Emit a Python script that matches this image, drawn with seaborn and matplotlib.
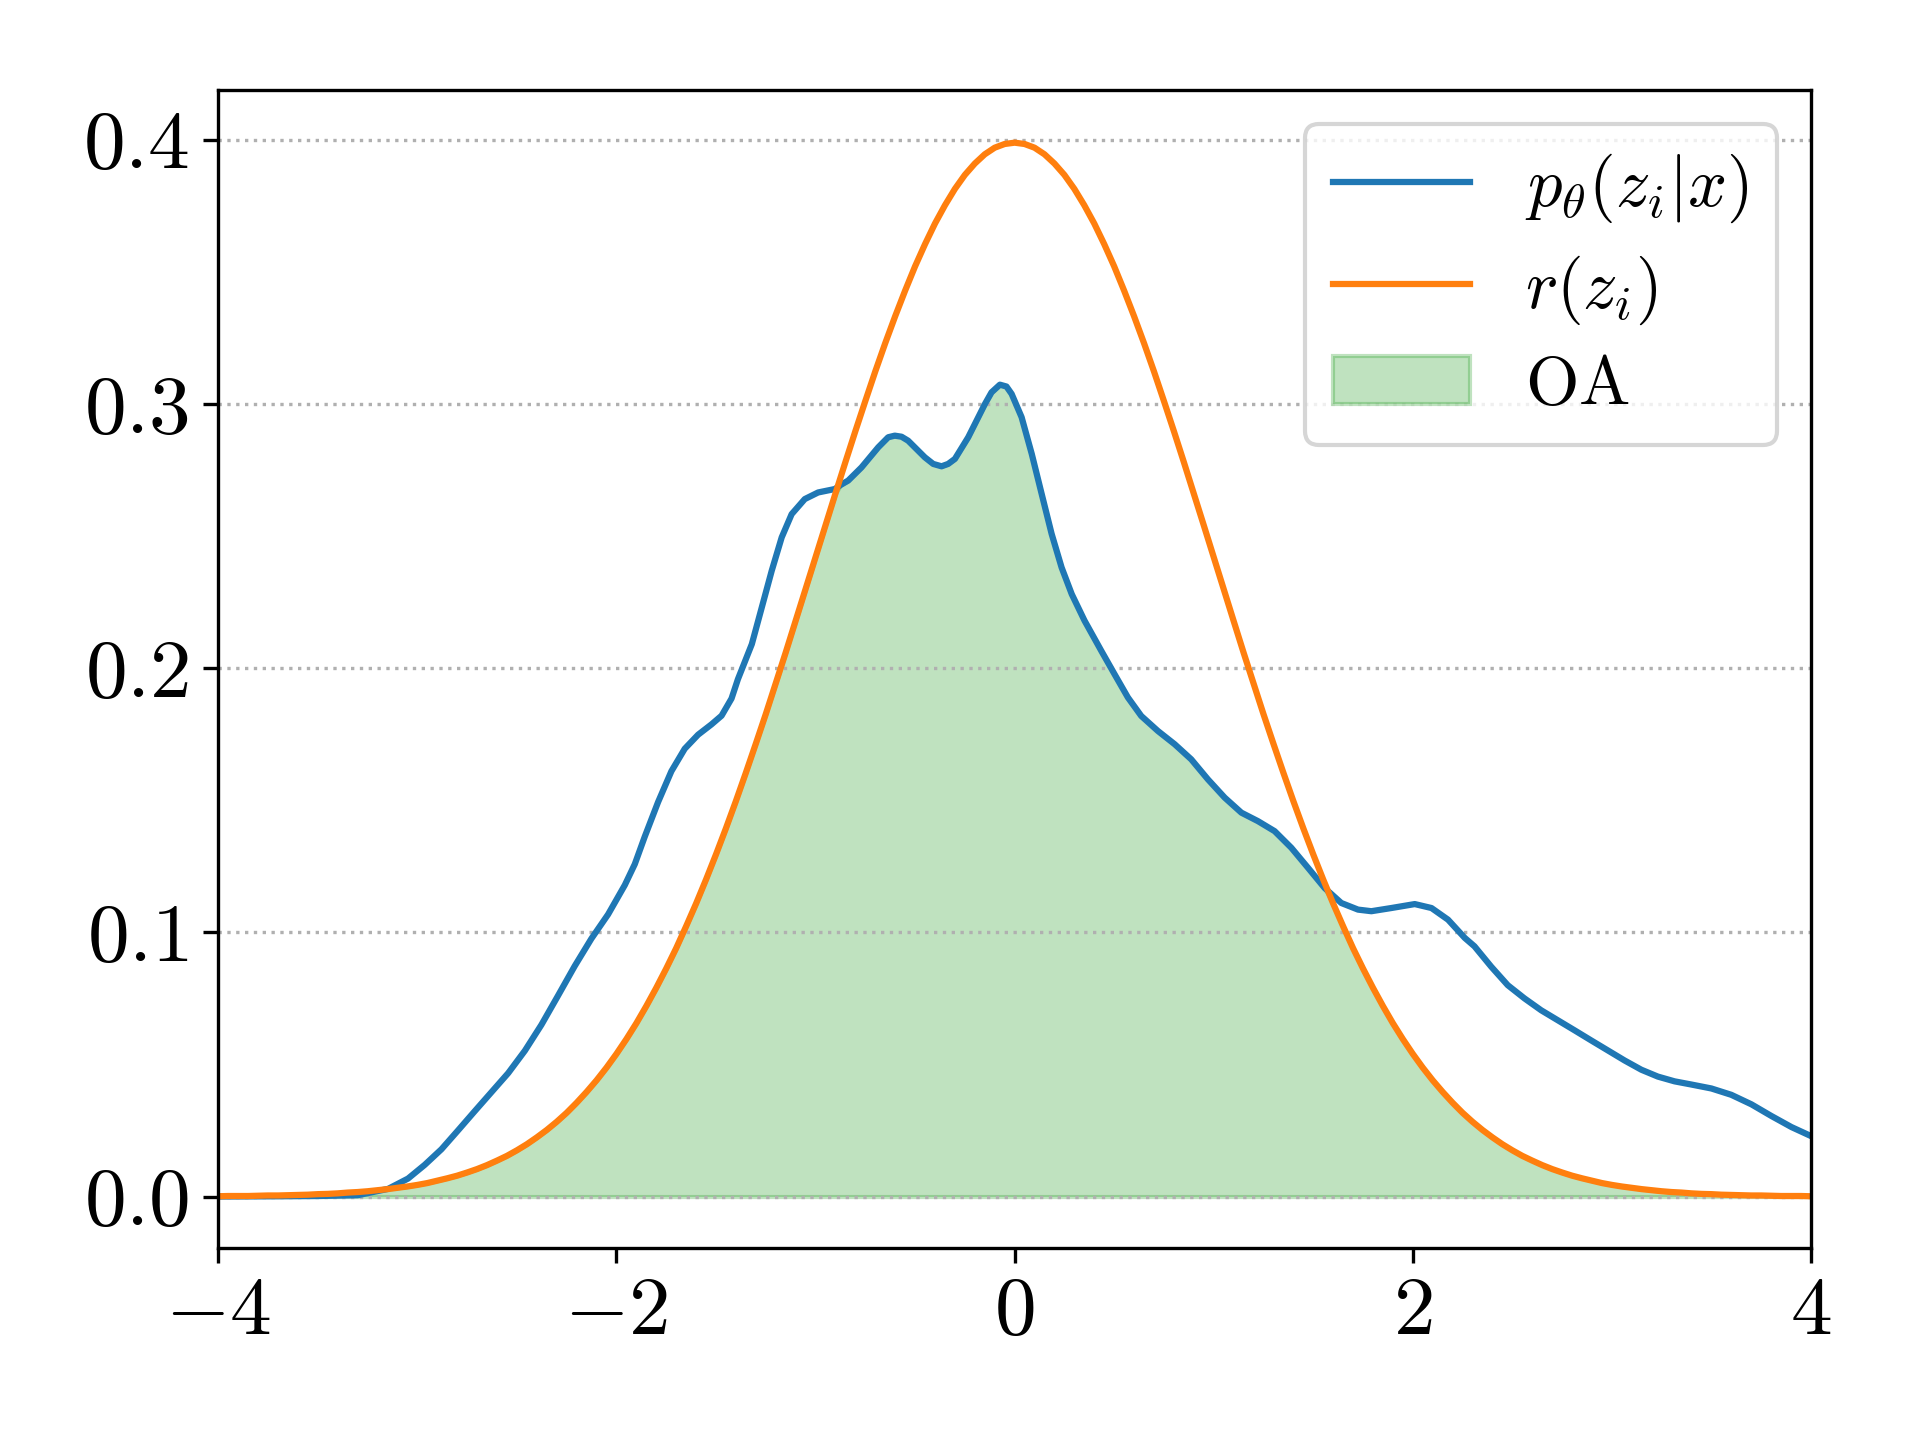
import numpy as np
import matplotlib
matplotlib.use("Agg")
import matplotlib.pyplot as plt
import seaborn as sns

# values
# blue curve: p_theta(z_i|x)
p_x = [-4.0, -3.7, -3.5, -3.3, -3.147, -3.047, -2.963, -2.879, -2.795, -2.712,
       -2.628, -2.544, -2.46, -2.377, -2.293, -2.21, -2.126, -2.042, -1.958, -1.908,
       -1.858, -1.791, -1.724, -1.657, -1.59, -1.523, -1.472, -1.422, -1.39, -1.32,
       -1.27, -1.22, -1.17, -1.12, -1.054, -0.987, -0.903, -0.875, -0.836, -0.769,
       -0.685, -0.635, -0.602, -0.568, -0.535, -0.451, -0.409, -0.367, -0.334, -0.3,
       -0.233, -0.149, -0.116, -0.074, -0.041, -0.015, 0.035, 0.086, 0.136, 0.186,
       0.236, 0.287, 0.351, 0.435, 0.502, 0.569, 0.636, 0.72, 0.804, 0.887,
       0.971, 1.055, 1.139, 1.222, 1.306, 1.39, 1.474, 1.557, 1.641, 1.725,
       1.792, 1.892, 2.01, 2.094, 2.177, 2.261, 2.31, 2.394, 2.477, 2.561,
       2.645, 2.729, 2.813, 2.896, 2.98, 3.064, 3.148, 3.231, 3.315, 3.399,
       3.5, 3.6, 3.701, 3.801, 3.902, 4.0]
p_y = [0.0, 0.0001, 0.0002, 0.0005, 0.0029, 0.0068, 0.012, 0.0179, 0.0251, 0.0323,
       0.0395, 0.0467, 0.0552, 0.065, 0.0761, 0.0872, 0.0976, 0.1068, 0.1179, 0.1258,
       0.1362, 0.1493, 0.161, 0.1695, 0.1748, 0.1787, 0.182, 0.1885, 0.1958, 0.2091,
       0.223, 0.2369, 0.2495, 0.2583, 0.264, 0.2665, 0.2678, 0.2693, 0.271, 0.276,
       0.2836, 0.2874, 0.288, 0.2876, 0.2861, 0.2798, 0.2773, 0.2764, 0.2773, 0.2792,
       0.2874, 0.3, 0.3044, 0.3073, 0.3066, 0.3038, 0.295, 0.2811, 0.2659, 0.2508,
       0.2381, 0.228, 0.218, 0.2066, 0.1977, 0.1889, 0.1819, 0.1762, 0.1712, 0.1655,
       0.1579, 0.151, 0.1453, 0.1421, 0.1383, 0.132, 0.1244, 0.1168, 0.1111, 0.1086,
       0.108, 0.1092, 0.1107, 0.1092, 0.1048, 0.0979, 0.0947, 0.087, 0.08, 0.075,
       0.0705, 0.0667, 0.0629, 0.0591, 0.0553, 0.0515, 0.048, 0.0454, 0.0436, 0.0424,
       0.0409, 0.0385, 0.0349, 0.0305, 0.0263, 0.0229]

# orange curve: r(z_i), read every 0.05 from 0 to 4 (it is symmetric)
r_x = np.linspace(-4, 4, 161)
r_half = [0.3989, 0.3984, 0.3970, 0.3945, 0.3910, 0.3867, 0.3814, 0.3752, 0.3683, 0.3605,
          0.3521, 0.3429, 0.3332, 0.3230, 0.3123, 0.3011, 0.2897, 0.2780, 0.2661, 0.2541,
          0.2420, 0.2299, 0.2179, 0.2059, 0.1942, 0.1826, 0.1714, 0.1604, 0.1497, 0.1394,
          0.1295, 0.1200, 0.1109, 0.1023, 0.0940, 0.0863, 0.0790, 0.0721, 0.0656, 0.0596,
          0.0540, 0.0488, 0.0440, 0.0396, 0.0355, 0.0317, 0.0283, 0.0252, 0.0224, 0.0198,
          0.0175, 0.0154, 0.0136, 0.0119, 0.0104, 0.0091, 0.0079, 0.0069, 0.0060, 0.0051,
          0.0044, 0.0038, 0.0033, 0.0028, 0.0024, 0.0020, 0.0017, 0.0015, 0.0012, 0.0010,
          0.0009, 0.0007, 0.0006, 0.0005, 0.0004, 0.0004, 0.0003, 0.0002, 0.0002, 0.0002,
          0.0001]
r_y = r_half[:0:-1] + r_half

# where the two curves cross (the overlap area switches curve there)
cross_lo = -0.896
cross_hi = 1.566

labels = [r'$p_\theta(z_i|x)$', r'$r(z_i)$', r'$\mathrm{OA}$']

plt.rcParams['font.family'] = 'serif'
plt.rcParams['font.serif'] = ['cmr10']
plt.rcParams['mathtext.fontset'] = 'cm'
plt.rcParams['axes.formatter.use_mathtext'] = True

fig = plt.figure(figsize=(6.4, 4.8), dpi=300)
ax = fig.add_axes([0.1137, 0.1333, 0.8295, 0.8045])

sns.lineplot(x=p_x, y=p_y, ax=ax, color='tab:blue', linewidth=1.5, label=labels[0])
sns.lineplot(x=r_x, y=r_y, ax=ax, color='tab:orange', linewidth=1.5, label=labels[1])

# overlap area = lower of the two curves
px = np.array(p_x)
py = np.array(p_y)
ry = np.array(r_y)
mask_r = (r_x < cross_lo) | (r_x > cross_hi)
mask_p = (px >= cross_lo) & (px <= cross_hi)
fx = np.concatenate([r_x[mask_r], px[mask_p]])
fy = np.concatenate([ry[mask_r], py[mask_p]])
order = np.argsort(fx)
ax.fill_between(fx[order], 0, fy[order], color='tab:green', alpha=0.3, label=labels[2])

ax.set_xlim(-4, 4)
ax.set_ylim(-0.0195, 0.419)
ax.set_xticks([-4, -2, 0, 2, 4])
ax.set_yticks([0.0, 0.1, 0.2, 0.3, 0.4])
ax.set_yticklabels([r'$0.0$', r'$0.1$', r'$0.2$', r'$0.3$', r'$0.4$'])
ax.set_xticklabels([r'$-4$', r'$-2$', r'$0$', r'$2$', r'$4$'])
ax.tick_params(labelsize=20)
ax.yaxis.grid(True, linestyle=':', color='#b0b0b0', linewidth=0.8)
ax.xaxis.grid(False)
ax.set_xlabel('')
ax.set_ylabel('')

ax.legend(loc='upper right', fontsize=16.5, labelspacing=0.42)

fig.savefig('out.png', dpi=300)
